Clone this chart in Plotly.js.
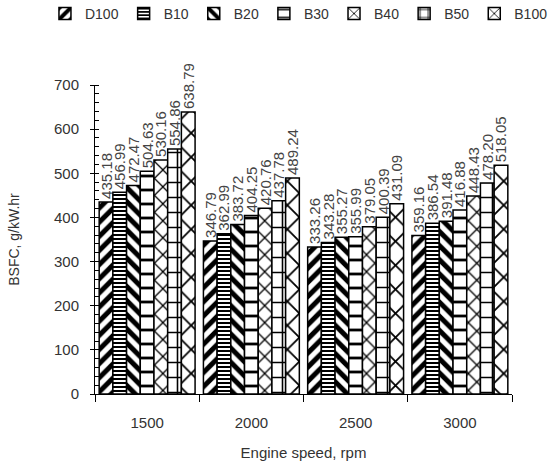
<!DOCTYPE html>
<html>
<head>
<meta charset="utf-8">
<script src="https://cdn.plot.ly/plotly-3.0.1.min.js"></script>
<style>html,body{margin:0;padding:0;background:#fff;}#chart{width:551px;height:463px;}</style>
</head>
<body>
<div id="chart"></div>
<script>
const speeds = ['1500', '2000', '2500', '3000'];
const fuels = ['D100', 'B10', 'B20', 'B30', 'B40', 'B50', 'B100'];
const D100 = [435.18, 346.79, 333.26, 359.16];
const B10  = [456.99, 362.99, 343.28, 386.54];
const B20  = [472.47, 383.72, 355.27, 391.48];
const B30  = [504.63, 404.25, 355.99, 416.88];
const B40  = [530.16, 420.76, 379.05, 448.43];
const B50  = [554.86, 437.78, 400.39, 478.20];
const B100 = [638.79, 489.24, 431.09, 518.05];
const series = [D100, B10, B20, B30, B40, B50, B100];

const patterns = [
  {shape: '/', size: 10, solidity: 0.5},
  {shape: '-', size: 4, solidity: 0.5},
  {shape: '\\', size: 10, solidity: 0.5},
  {shape: '-', size: 14, solidity: 0.2},
  {shape: 'x', size: 12, solidity: 0.2},
  {shape: '+', size: 15, solidity: 0.2},
  {shape: 'x', size: 17, solidity: 0.2}
];

const font = {family: 'Liberation Sans, Arial, sans-serif', color: '#333'};

const traces = series.map((vals, i) => ({
  type: 'bar',
  name: fuels[i],
  x: speeds,
  y: vals,
  text: vals.map(v => v.toFixed(2)),
  textposition: 'outside',
  textangle: -90,
  constraintext: 'none',
  cliponaxis: false,
  textfont: {family: font.family, size: 15, color: '#444'},
  hoverinfo: 'x+y+name',
  marker: {
    color: 'white',
    line: {color: 'black', width: 1.5},
    pattern: Object.assign({fgcolor: 'black', bgcolor: 'white', fgopacity: 1, fillmode: 'replace'}, patterns[i])
  }
}));

traces.push({type: 'scatter', x: [speeds[0]], y: [0], yaxis: 'y2', mode: 'markers',
  marker: {opacity: 0}, showlegend: false, hoverinfo: 'skip'});

const layout = {
  width: 551, height: 463,
  margin: {l: 95, r: 39, t: 85, b: 69, autoexpand: false},
  paper_bgcolor: 'white', plot_bgcolor: 'white',
  font: Object.assign({size: 14}, font),
  barmode: 'group',
  bargap: 0.08,
  bargroupgap: 0,
  showlegend: true,
  legend: {orientation: 'h', xref: 'paper', x: -0.12, xanchor: 'left',
    yref: 'paper', y: 1.23, yanchor: 'middle',
    font: Object.assign({size: 14}, font), itemwidth: 30, tracegroupgap: 0},
  xaxis: {
    type: 'category',
    showline: true, linecolor: 'black', linewidth: 1,
    ticks: 'outside', tickson: 'boundaries', ticklen: 7, tickcolor: 'black',
    ticklabelstandoff: 15,
    tickfont: Object.assign({size: 15}, font),
    showgrid: false, zeroline: false,
    title: {text: 'Engine speed, rpm', font: Object.assign({size: 15}, font), standoff: 17}
  },
  yaxis: {
    range: [0, 700], dtick: 100,
    showline: true, linecolor: 'black', linewidth: 1,
    ticks: 'outside', ticklen: 4, tickcolor: 'black',
    minor: {dtick: 20, ticks: 'inside', ticklen: 4, tickcolor: 'black', showgrid: false},
    tickfont: Object.assign({size: 15}, font),
    ticklabelstandoff: 8,
    showgrid: false, zeroline: false,
    title: {text: 'BSFC, g/kW.hr', font: Object.assign({size: 14}, font), standoff: 31}
  },
  yaxis2: {
    overlaying: 'y', side: 'left', range: [0, 700], dtick: 100,
    ticks: 'inside', ticklen: 4, tickcolor: 'black',
    showticklabels: false, showline: false, showgrid: false, zeroline: false
  }
};

Plotly.newPlot('chart', traces, layout, {displayModeBar: false, staticPlot: true});
</script>
</body>
</html>
